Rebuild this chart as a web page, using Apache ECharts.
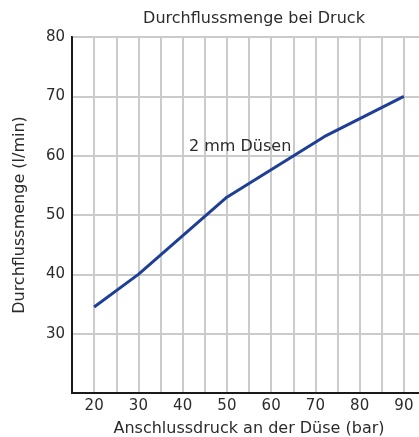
<!DOCTYPE html>
<html>
<head>
<meta charset="utf-8">
<script src="https://cdn.jsdelivr.net/npm/echarts@6/dist/echarts.min.js"></script>
<style>
  html, body { margin: 0; padding: 0; background: #fff; }
  #chart { width: 419px; height: 437px; }
</style>
</head>
<body>
<div id="chart"></div>
<script>
// Druck (bar) und Durchfluss (l/min) für 2 mm Düsen
const pressure = [20, 30, 50, 72, 90];
const flow = [34.5, 40, 53, 63.2, 70];
const seriesName = "2 mm Düsen";
const labelPos = [53, 61.5];

const myChart = echarts.init(document.getElementById("chart"));
const font = "DejaVu Sans";
const textColor = "#2b2b2b";

const options = {
  animation: false,
  textStyle: { fontFamily: font },
  title: {
    text: "Durchflussmenge bei Druck",
    left: 249,
    top: 6,
    textAlign: "center",
    textStyle: { fontFamily: font, fontSize: 16, fontWeight: "normal", color: textColor },
  },
  grid: {
    left: 72,
    top: 37,
    height: 356,
    width: 354,
    outerBoundsMode: "none",
    containLabel: false,
    show: true,
    borderColor: "#1a1a1a",
    borderWidth: 2,
  },
  xAxis: {
    type: "value",
    min: 15,
    max: 95,
    interval: 5,
    name: "Anschlussdruck an der Düse (bar)",
    nameLocation: "middle",
    nameGap: 28,
    nameTextStyle: { fontFamily: font, fontSize: 16, color: textColor },
    axisLine: { show: true, lineStyle: { color: "#1a1a1a", width: 2 } },
    axisTick: { show: false },
    axisLabel: {
      fontFamily: font,
      fontSize: 15,
      color: textColor,
      margin: 6,
      formatter: (v) => (v % 10 === 0 && v >= 20 && v <= 90 ? String(v) : ""),
    },
    splitLine: { show: true, lineStyle: { color: "#cbcbcb", width: 2 } },
  },
  yAxis: {
    type: "value",
    min: 20,
    max: 80,
    interval: 10,
    name: "Durchflussmenge (l/min)",
    nameLocation: "middle",
    nameGap: 44,
    nameTextStyle: { fontFamily: font, fontSize: 16, color: textColor },
    axisLine: { show: true, lineStyle: { color: "#1a1a1a", width: 2 } },
    axisTick: { show: false },
    axisLabel: {
      fontFamily: font,
      fontSize: 15,
      color: textColor,
      margin: 7,
      padding: [4, 0, 0, 0],
      formatter: (v) => (v === 20 ? "" : String(v)),
    },
    splitLine: { show: true, lineStyle: { color: "#cbcbcb", width: 2 } },
  },
  series: [
    {
      name: seriesName,
      type: "line",
      data: pressure.map((p, i) => [p, flow[i]]),
      showSymbol: false,
      symbol: "none",
      lineStyle: { color: "#1f3f96", width: 3 },
      markPoint: {
        symbol: "circle",
        symbolSize: 0,
        data: [{ coord: labelPos }],
        label: {
          show: true,
          position: "inside",
          formatter: seriesName,
          fontFamily: font,
          fontSize: 16,
          color: textColor,
        },
      },
    },
  ],
};
myChart.setOption(options);
</script>
</body>
</html>
